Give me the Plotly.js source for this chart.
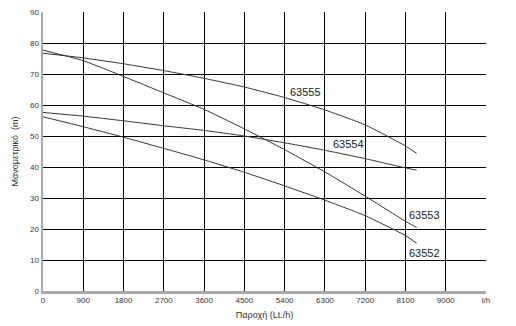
<!DOCTYPE html>
<html>
<head>
<meta charset="utf-8">
<script src="https://cdn.plot.ly/plotly-3.0.1.min.js"></script>
<style>html,body{margin:0;padding:0;background:#fff;}#chart{width:516px;height:326px;}</style>
</head>
<body>
<div id="chart"></div>
<script>
const flow = [0, 900, 1800, 2700, 3600, 4500, 5400, 6300, 7200, 8100, 8350];
const h63555 = [76.7, 75.2, 73.3, 71.1, 68.6, 65.8, 62.4, 58.4, 53.6, 46.8, 44.4];
const h63554 = [57.6, 56.4, 54.9, 53.3, 51.8, 50.0, 47.8, 45.4, 42.7, 39.7, 39.0];
const h63553 = [77.7, 74.3, 69.2, 63.9, 58.6, 52.3, 45.6, 38.4, 30.6, 22.5, 20.5];
const h63552 = [56.2, 53.0, 49.6, 46.0, 42.3, 38.3, 33.9, 29.3, 24.3, 17.9, 15.4];
const seriesNames = ["63555", "63554", "63553", "63552"];
const xTickVals = [0, 900, 1800, 2700, 3600, 4500, 5400, 6300, 7200, 8100, 9000, 9900];
const xTickText = ["0", "900", "1800", "2700", "3600", "4500", "5400", "6300", "7200", "8100", "9000", "l/h"];
const yTickVals = [0, 10, 20, 30, 40, 50, 60, 70, 80, 90];

const series = [h63555, h63554, h63553, h63552];
const traces = series.map((ys, i) => ({
  x: flow, y: ys, name: seriesNames[i], type: 'scatter', mode: 'lines',
  line: {color: '#333', width: 1, shape: 'spline', smoothing: 0.4},
  hoverinfo: 'skip'
}));

const labelPos = [[5877, 64.2], [6817, 47.4], [8536, 24.6], [8527, 12.4]];
const annotations = seriesNames.map((n, i) => ({
  x: labelPos[i][0], y: labelPos[i][1], xref: 'x', yref: 'y', text: n,
  showarrow: false, font: {family: 'Liberation Sans, Arial, sans-serif', size: 11, color: '#222'}
}));

const layout = {
  width: 516, height: 326,
  margin: {l: 43, r: 30, t: 12, b: 35, pad: 0},
  paper_bgcolor: '#fff', plot_bgcolor: '#fff',
  showlegend: false,
  font: {family: 'Liberation Sans, Arial, sans-serif', size: 8, color: '#333'},
  xaxis: {
    range: [0, 9900], tickvals: xTickVals, ticktext: xTickText,
    showgrid: true, gridcolor: '#000', gridwidth: 1,
    zeroline: false, showline: true, linecolor: '#a8a8a8', linewidth: 2.5,
    ticks: '', ticklen: 0, tickfont: {size: 8, color: '#333'},
    title: {text: 'Παροχή (Lt./h)', font: {size: 9, color: '#333'}, standoff: 8},
    fixedrange: true
  },
  yaxis: {
    range: [0, 90], tickvals: yTickVals,
    showgrid: true, gridcolor: '#000', gridwidth: 1,
    zeroline: false, showline: true, linecolor: '#a8a8a8', linewidth: 2.5,
    ticks: '', tickfont: {size: 8, color: '#333'},
    title: {text: 'Μανομετρικό  (m)', font: {size: 9, color: '#333'}, standoff: 10},
    fixedrange: true
  },
  annotations: annotations
};

Plotly.newPlot('chart', traces, layout, {displayModeBar: false, staticPlot: true});
</script>
</body>
</html>
